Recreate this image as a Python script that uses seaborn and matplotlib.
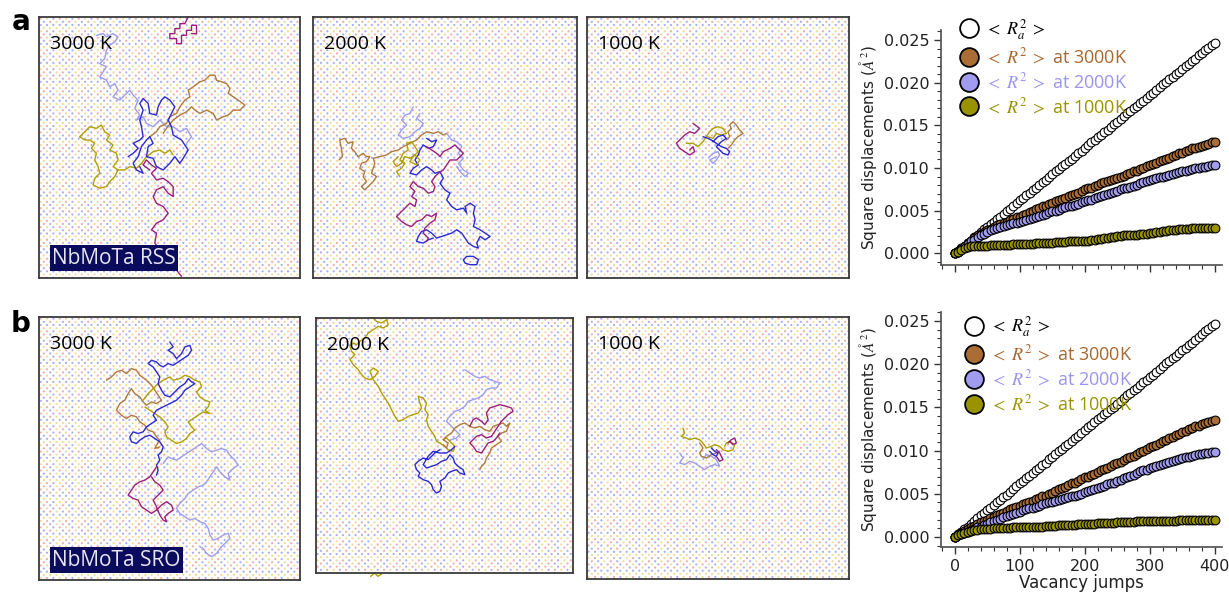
import numpy as np
import matplotlib
matplotlib.use("Agg")
import matplotlib.pyplot as plt
import seaborn as sns
from matplotlib.lines import Line2D
from matplotlib.ticker import MultipleLocator, FormatStrFormatter

# ---- colours ----
BLUE = '#2a2ad8'
LAV = '#9d9df2'
BROWN = '#b07a3e'
OLIVE = '#b0a000'
MAGENTA = '#9a1f7c'
LATTICE_COLORS = np.array(['#f4a8a8', '#aaaaf4', '#f0da92'])

# ---- MSD curves (square displacement vs vacancy jumps, every 5 jumps) ----
RA2 = [0.0000, 0.0003, 0.0006, 0.0009, 0.0012, 0.0015, 0.0019, 0.0022, 0.0025, 0.0028,
       0.0031, 0.0034, 0.0037, 0.0040, 0.0043, 0.0046, 0.0049, 0.0052, 0.0056, 0.0059,
       0.0062, 0.0065, 0.0068, 0.0071, 0.0074, 0.0077, 0.0080, 0.0083, 0.0086, 0.0090,
       0.0093, 0.0096, 0.0099, 0.0102, 0.0105, 0.0108, 0.0111, 0.0114, 0.0117, 0.0120,
       0.0124, 0.0127, 0.0130, 0.0133, 0.0136, 0.0139, 0.0142, 0.0145, 0.0148, 0.0151,
       0.0154, 0.0157, 0.0161, 0.0164, 0.0167, 0.0170, 0.0173, 0.0176, 0.0179, 0.0182,
       0.0185, 0.0188, 0.0191, 0.0195, 0.0198, 0.0201, 0.0204, 0.0207, 0.0210, 0.0213,
       0.0216, 0.0219, 0.0222, 0.0225, 0.0228, 0.0232, 0.0235, 0.0238, 0.0241, 0.0244, 0.0247]

RSS_3000 = [0.0000, 0.0002, 0.0005, 0.0009, 0.0012, 0.0015, 0.0018, 0.0021, 0.0023, 0.0025,
            0.0027, 0.0029, 0.0031, 0.0033, 0.0034, 0.0036, 0.0037, 0.0039, 0.0040, 0.0042,
            0.0043, 0.0045, 0.0046, 0.0048, 0.0050, 0.0052, 0.0053, 0.0055, 0.0056, 0.0058,
            0.0059, 0.0061, 0.0062, 0.0064, 0.0065, 0.0067, 0.0068, 0.0070, 0.0071, 0.0073,
            0.0075, 0.0076, 0.0077, 0.0079, 0.0080, 0.0082, 0.0083, 0.0085, 0.0086, 0.0087,
            0.0088, 0.0090, 0.0091, 0.0093, 0.0094, 0.0096, 0.0097, 0.0099, 0.0100, 0.0102,
            0.0103, 0.0105, 0.0106, 0.0108, 0.0109, 0.0111, 0.0112, 0.0114, 0.0115, 0.0117,
            0.0118, 0.0120, 0.0121, 0.0123, 0.0124, 0.0125, 0.0126, 0.0127, 0.0128, 0.0130, 0.0131]
RSS_2000 = [0.0000, 0.0002, 0.0005, 0.0008, 0.0011, 0.0014, 0.0016, 0.0019, 0.0021, 0.0023,
            0.0025, 0.0027, 0.0028, 0.0030, 0.0031, 0.0032, 0.0033, 0.0034, 0.0035, 0.0036,
            0.0037, 0.0038, 0.0039, 0.0040, 0.0041, 0.0043, 0.0044, 0.0045, 0.0046, 0.0048,
            0.0049, 0.0050, 0.0051, 0.0053, 0.0054, 0.0055, 0.0056, 0.0057, 0.0058, 0.0060,
            0.0061, 0.0062, 0.0063, 0.0065, 0.0066, 0.0067, 0.0068, 0.0070, 0.0071, 0.0072,
            0.0073, 0.0075, 0.0076, 0.0077, 0.0078, 0.0079, 0.0080, 0.0082, 0.0083, 0.0085,
            0.0086, 0.0087, 0.0088, 0.0089, 0.0090, 0.0091, 0.0092, 0.0093, 0.0094, 0.0095,
            0.0096, 0.0097, 0.0098, 0.0099, 0.0100, 0.0100, 0.0101, 0.0101, 0.0102, 0.0103, 0.0104]
RSS_1000 = [0.0000, 0.0002, 0.0004, 0.0006, 0.0007, 0.0008, 0.0008, 0.0009, 0.0009, 0.0009,
            0.0009, 0.0010, 0.0010, 0.0010, 0.0010, 0.0010, 0.0010, 0.0010, 0.0011, 0.0011,
            0.0011, 0.0011, 0.0011, 0.0011, 0.0011, 0.0012, 0.0012, 0.0012, 0.0012, 0.0012,
            0.0012, 0.0013, 0.0013, 0.0013, 0.0013, 0.0014, 0.0014, 0.0014, 0.0014, 0.0015,
            0.0015, 0.0015, 0.0016, 0.0016, 0.0017, 0.0017, 0.0018, 0.0018, 0.0019, 0.0019,
            0.0020, 0.0020, 0.0021, 0.0021, 0.0022, 0.0022, 0.0022, 0.0023, 0.0023, 0.0023,
            0.0024, 0.0024, 0.0025, 0.0025, 0.0026, 0.0026, 0.0027, 0.0027, 0.0027, 0.0028,
            0.0028, 0.0029, 0.0029, 0.0030, 0.0030, 0.0030, 0.0030, 0.0030, 0.0030, 0.0030, 0.0030]

SRO_3000 = [0.0000, 0.0002, 0.0005, 0.0007, 0.0009, 0.0011, 0.0013, 0.0015, 0.0017, 0.0019,
            0.0020, 0.0022, 0.0023, 0.0025, 0.0027, 0.0028, 0.0030, 0.0032, 0.0033, 0.0035,
            0.0036, 0.0038, 0.0039, 0.0041, 0.0042, 0.0044, 0.0045, 0.0047, 0.0048, 0.0050,
            0.0051, 0.0053, 0.0055, 0.0057, 0.0058, 0.0060, 0.0062, 0.0063, 0.0065, 0.0067,
            0.0069, 0.0070, 0.0072, 0.0073, 0.0075, 0.0077, 0.0079, 0.0080, 0.0082, 0.0084,
            0.0086, 0.0087, 0.0089, 0.0091, 0.0093, 0.0094, 0.0096, 0.0098, 0.0100, 0.0102,
            0.0104, 0.0105, 0.0107, 0.0109, 0.0111, 0.0112, 0.0114, 0.0116, 0.0118, 0.0119,
            0.0121, 0.0123, 0.0125, 0.0126, 0.0128, 0.0129, 0.0131, 0.0132, 0.0133, 0.0134, 0.0135]
SRO_2000 = [0.0000, 0.0002, 0.0003, 0.0005, 0.0006, 0.0008, 0.0009, 0.0011, 0.0012, 0.0014,
            0.0015, 0.0017, 0.0018, 0.0020, 0.0021, 0.0023, 0.0024, 0.0026, 0.0027, 0.0028,
            0.0029, 0.0031, 0.0032, 0.0033, 0.0034, 0.0035, 0.0036, 0.0038, 0.0039, 0.0040,
            0.0041, 0.0042, 0.0043, 0.0044, 0.0045, 0.0046, 0.0047, 0.0048, 0.0049, 0.0050,
            0.0052, 0.0053, 0.0054, 0.0055, 0.0057, 0.0058, 0.0059, 0.0061, 0.0062, 0.0063,
            0.0065, 0.0066, 0.0068, 0.0070, 0.0071, 0.0072, 0.0074, 0.0076, 0.0077, 0.0078,
            0.0080, 0.0081, 0.0082, 0.0083, 0.0085, 0.0086, 0.0087, 0.0088, 0.0089, 0.0090,
            0.0091, 0.0092, 0.0093, 0.0094, 0.0095, 0.0096, 0.0096, 0.0097, 0.0097, 0.0098, 0.0098]
SRO_1000 = [0.0000, 0.0002, 0.0004, 0.0005, 0.0006, 0.0007, 0.0008, 0.0008, 0.0009, 0.0009,
            0.0009, 0.0009, 0.0010, 0.0010, 0.0010, 0.0010, 0.0010, 0.0010, 0.0011, 0.0011,
            0.0011, 0.0011, 0.0012, 0.0012, 0.0012, 0.0012, 0.0012, 0.0012, 0.0013, 0.0013,
            0.0013, 0.0013, 0.0014, 0.0014, 0.0014, 0.0014, 0.0014, 0.0014, 0.0015, 0.0015,
            0.0015, 0.0015, 0.0015, 0.0015, 0.0016, 0.0016, 0.0016, 0.0016, 0.0016, 0.0016,
            0.0017, 0.0017, 0.0017, 0.0017, 0.0017, 0.0017, 0.0018, 0.0018, 0.0018, 0.0018,
            0.0018, 0.0018, 0.0019, 0.0019, 0.0019, 0.0019, 0.0019, 0.0019, 0.0019, 0.0020,
            0.0020, 0.0020, 0.0020, 0.0020, 0.0020, 0.0020, 0.0020, 0.0020, 0.0020, 0.0020, 0.0020]

JUMP_STEP = 5

MSD_LABELS = [r'$<\;R_a^2\;>$', r'$<\;R^2\;>$ at 3000K', r'$<\;R^2\;>$ at 2000K',
              r'$<\;R^2\;>$ at 1000K']
MSD_FACES = ['white', '#a96d35', '#a29cf0', '#9a9300']
MSD_TEXT = ['black', '#a8672f', '#9a94f0', '#9a9300']

# ---- vacancy trajectories, in panel pixel units (x right, y down) ----
# frame = (x_left, x_right, y_top, y_bottom)
FRAME_A1 = (118, 900, 50, 835)
FRAME_A2 = (40, 830, 50, 835)
FRAME_A3 = (22, 808, 50, 835)
FRAME_B1 = (118, 900, 50, 840)
FRAME_B2 = (48, 820, 55, 820)
FRAME_B3 = (22, 808, 50, 840)

A1_MAGENTA_TOP = [(565, 50), (555, 70), (540, 70), (540, 85), (525, 85), (525, 100), (510, 100),
                  (510, 115), (530, 115), (530, 130), (545, 130), (545, 105), (560, 105), (560, 90),
                  (575, 90), (575, 75), (590, 75), (590, 100), (575, 100)]
A1_MAGENTA = [(545, 830), (465, 730), (470, 700), (455, 690), (470, 670), (490, 660), (505, 640),
              (490, 620), (470, 610), (460, 590), (470, 570), (490, 560), (505, 580), (520, 590),
              (520, 560), (505, 545), (490, 535), (470, 540), (455, 520), (470, 505), (455, 495),
              (440, 480), (430, 495), (450, 510)]
A1_LAV = [(290, 105), (310, 100), (320, 110), (340, 100), (355, 110), (345, 125), (330, 135),
          (320, 150), (315, 175), (300, 190), (320, 200), (310, 215), (300, 230), (320, 240),
          (330, 260), (345, 250), (355, 270), (340, 290), (360, 300), (375, 285), (390, 270),
          (400, 285), (415, 300), (405, 325), (420, 345), (410, 360), (430, 350), (440, 370),
          (460, 380), (480, 360), (500, 380), (520, 380), (540, 395), (560, 385), (575, 410),
          (560, 430)]
A1_BLUE = [(385, 470), (400, 460), (415, 445), (400, 430), (420, 420), (430, 410), (425, 380),
           (420, 360), (430, 330), (420, 310), (430, 295), (445, 310), (450, 340), (470, 345),
           (475, 320), (485, 300), (495, 290), (510, 300), (525, 320), (515, 340), (505, 360),
           (515, 380), (520, 405), (545, 420), (565, 450), (550, 475), (540, 490), (525, 470),
           (510, 490), (490, 510), (470, 500), (460, 475), (440, 470), (445, 440), (460, 430),
           (450, 410), (440, 420), (425, 440), (415, 470), (400, 490), (410, 510), (430, 520),
           (420, 500)]
A1_BROWN = [(450, 410), (470, 395), (480, 380), (500, 370), (510, 350), (530, 340), (540, 320),
            (555, 300), (570, 290), (565, 270), (580, 260), (600, 245), (615, 240), (630, 225),
            (645, 225), (650, 240), (665, 245), (680, 250), (690, 265), (685, 280), (700, 290),
            (715, 300), (735, 315), (720, 330), (700, 330), (685, 345), (670, 350), (650, 360),
            (640, 340), (620, 330), (600, 340), (585, 330), (575, 320), (560, 335), (540, 345),
            (520, 360), (500, 385), (490, 400)]
A1_OLIVE = [(240, 410), (255, 395), (270, 380), (290, 385), (305, 375), (315, 395), (330, 405),
            (320, 420), (340, 435), (330, 450), (350, 460), (355, 480), (340, 500), (355, 510),
            (345, 530), (330, 545), (320, 560), (300, 565), (280, 555), (285, 535), (300, 520),
            (295, 500), (285, 480), (290, 460), (275, 445), (285, 430), (270, 420), (255, 420),
            (240, 410)]
A1_OLIVE_B = [(355, 510), (375, 510), (390, 500), (410, 505), (425, 490), (440, 470), (460, 455),
              (480, 450), (495, 460), (510, 450), (520, 465)]

A2_BROWN = [(118, 480), (128, 470), (125, 445), (120, 420), (135, 415), (145, 430), (160, 425),
            (155, 445), (165, 455), (175, 470), (190, 460), (200, 470), (210, 470), (200, 485),
            (185, 490), (180, 505), (195, 515), (190, 530), (200, 545), (185, 560), (195, 570),
            (210, 555), (220, 545), (230, 530), (215, 520), (220, 505), (225, 490), (220, 475),
            (240, 470), (260, 465), (275, 455), (295, 450), (310, 440), (330, 430), (350, 420),
            (365, 405), (380, 395), (400, 400), (415, 395), (430, 405), (440, 400)]
A2_OLIVE = [(300, 530), (290, 515), (305, 505), (315, 490), (300, 480), (310, 460), (325, 450),
            (320, 430), (335, 425), (345, 440), (355, 455), (340, 470), (330, 485), (350, 495),
            (360, 480), (345, 465), (330, 475), (315, 470), (305, 490), (290, 500), (280, 485),
            (295, 470)]
A2_LAV = [(340, 320), (330, 340), (315, 345), (305, 360), (320, 375), (305, 390), (295, 405),
          (310, 415), (330, 410), (345, 395), (360, 385), (370, 370), (350, 355), (360, 340)]
A2_LAV_B = [(440, 400), (455, 420), (470, 425), (485, 440), (475, 460), (490, 475), (475, 490),
            (490, 510), (505, 520), (495, 530), (480, 515), (470, 500)]
A2_BLUE = [(380, 415), (395, 425), (410, 420), (400, 440), (385, 445), (370, 435), (360, 450),
           (355, 465), (345, 480), (355, 495), (340, 505), (330, 520), (350, 525), (365, 510),
           (380, 500), (395, 510), (405, 520), (420, 515), (430, 535), (420, 550), (435, 570),
           (450, 580), (440, 600), (455, 620), (470, 630), (490, 625), (500, 640), (495, 620),
           (510, 610), (525, 620), (520, 640), (525, 660), (520, 680), (540, 690), (555, 700),
           (570, 710), (555, 720), (540, 710), (530, 730), (535, 745), (520, 740), (505, 730),
           (495, 715), (485, 700), (470, 690), (455, 700), (440, 705), (425, 710), (410, 715),
           (395, 700), (380, 690), (365, 695), (355, 710), (350, 725), (370, 730), (385, 720),
           (400, 715)]
A2_BLUE_LOOP = [(490, 780), (500, 770), (520, 770), (535, 780), (530, 795), (510, 795),
                (495, 790), (490, 780)]
A2_MAGENTA = [(380, 440), (395, 450), (410, 460), (420, 470), (430, 455), (450, 445), (465, 435),
              (475, 445), (490, 460), (480, 470), (470, 480), (450, 480), (440, 495), (430, 510),
              (415, 520), (405, 530), (395, 545), (405, 560), (400, 575), (385, 580), (370, 565),
              (355, 560), (340, 545), (330, 560), (345, 575), (335, 590), (350, 600), (345, 620),
              (330, 610), (315, 625), (300, 640), (290, 650), (305, 665), (320, 675), (335, 680),
              (350, 665), (365, 660), (380, 645), (395, 650), (410, 640), (405, 660), (390, 670),
              (375, 685), (370, 700), (385, 715), (380, 725)]

A3_MAGENTA = [(340, 370), (360, 385), (345, 400), (330, 395), (315, 405), (300, 420), (290, 430),
              (300, 445), (315, 455), (330, 465), (345, 455), (340, 440), (330, 450)]
A3_OLIVE = [(320, 430), (340, 430), (355, 440), (370, 425), (380, 410), (390, 395), (400, 385),
            (415, 380), (430, 385), (440, 400), (425, 405), (410, 400), (400, 415), (385, 410)]
A3_BLUE = [(370, 410), (385, 415), (395, 420), (410, 430), (425, 440), (440, 445), (450, 455),
           (445, 465), (430, 460), (420, 450), (410, 440), (425, 425), (440, 415), (430, 405),
           (415, 410), (400, 425)]
A3_BROWN = [(440, 420), (450, 410), (445, 395), (455, 385), (450, 375), (460, 365), (470, 375),
            (480, 390), (490, 400), (475, 410), (465, 420), (455, 435), (445, 445)]
A3_LAV = [(390, 470), (400, 460), (415, 455), (420, 465), (410, 480), (400, 490), (390, 480),
          (410, 470)]

B1_BLUE = [(510, 125), (520, 140), (505, 150), (520, 160), (530, 175), (545, 160), (555, 140),
           (570, 135), (575, 150), (565, 165), (550, 175), (535, 185), (520, 195), (505, 190),
           (490, 200), (480, 195), (470, 185), (455, 180), (445, 190), (460, 200), (470, 215),
           (480, 230), (475, 250), (485, 270), (495, 285), (510, 290), (525, 275), (540, 260),
           (555, 250), (565, 235), (575, 245), (585, 250), (570, 260), (555, 270), (545, 285),
           (530, 300), (510, 310), (490, 320), (470, 330), (460, 345), (470, 360), (455, 370),
           (440, 380), (430, 395), (415, 400), (400, 395), (390, 410), (395, 425), (410, 430),
           (420, 420), (435, 410), (450, 405), (465, 415), (480, 425), (490, 440), (485, 455),
           (475, 465), (480, 480), (470, 495), (475, 510), (470, 525)]
B1_BROWN = [(320, 240), (335, 230), (350, 215), (365, 210), (380, 220), (395, 205), (410, 210),
            (420, 225), (440, 240), (455, 255), (465, 270), (475, 285), (485, 300), (470, 310),
            (455, 305), (440, 315), (430, 305), (420, 290), (405, 280), (395, 265), (385, 280),
            (375, 300), (360, 310), (350, 330), (365, 345), (380, 355), (395, 345), (410, 350),
            (420, 365), (435, 375), (445, 390), (460, 395), (470, 410), (480, 420), (470, 435),
            (465, 445), (480, 440)]
B1_OLIVE = [(430, 300), (445, 280), (460, 265), (475, 250), (490, 240), (510, 230), (520, 240),
            (540, 235), (555, 225), (570, 230), (585, 240), (600, 245), (605, 260), (590, 275),
            (600, 290), (615, 300), (630, 305), (625, 320), (615, 330), (630, 340), (610, 335),
            (595, 345), (580, 355), (565, 365), (575, 380), (585, 390), (570, 400), (560, 415),
            (545, 425), (530, 430), (515, 420), (500, 410), (495, 395), (505, 380), (495, 365),
            (480, 350), (465, 340), (450, 330), (435, 320)]
B1_LAV = [(490, 490), (505, 470), (515, 475), (530, 480), (545, 470), (560, 460), (575, 450),
          (590, 440), (605, 430), (620, 445), (635, 455), (650, 450), (665, 445), (680, 450),
          (690, 465), (705, 480), (715, 495), (700, 505), (685, 520), (690, 540), (675, 530),
          (660, 515), (650, 500), (640, 515), (630, 530), (620, 545), (610, 555), (595, 560),
          (580, 570), (565, 580), (555, 595), (540, 610), (530, 625), (540, 640), (555, 650),
          (570, 660), (585, 655), (600, 665), (615, 670), (625, 685), (630, 705), (640, 720),
          (655, 715), (670, 705), (685, 700), (690, 715), (675, 730), (660, 745), (650, 760),
          (635, 770), (620, 760), (610, 745), (600, 740)]
B1_MAGENTA = [(470, 500), (460, 515), (450, 530), (435, 540), (420, 545), (405, 555), (395, 570),
              (385, 585), (400, 595), (415, 600), (425, 620), (440, 630), (455, 640), (470, 630),
              (485, 615), (500, 605), (515, 615), (520, 630), (505, 640), (495, 650), (500, 665),
              (490, 660), (480, 645), (470, 620), (460, 600), (475, 585), (490, 570), (480, 555),
              (465, 545), (455, 530)]

B2_OLIVE = [(220, 55), (230, 65), (245, 70), (260, 60), (265, 75), (250, 85), (235, 80), (220, 90),
            (205, 100), (195, 115), (180, 125), (170, 135), (160, 130), (150, 140), (155, 155),
            (165, 165), (150, 180), (160, 195), (175, 210), (185, 225), (195, 235), (210, 240),
            (225, 230), (235, 215), (220, 205), (210, 215), (220, 240), (235, 260), (245, 280),
            (255, 295), (265, 310), (275, 330), (285, 350), (295, 365), (310, 360), (325, 350),
            (340, 345), (355, 340), (365, 325), (360, 310), (355, 290), (370, 295), (380, 310),
            (375, 330), (385, 345), (380, 360), (385, 380), (395, 395), (405, 410), (410, 425),
            (420, 430), (435, 440), (445, 450), (460, 455), (465, 440), (450, 425), (440, 415),
            (430, 420)]
B2_OLIVE_STUB = [(212, 830), (224, 820), (234, 830), (246, 822)]
B2_BLUE = [(420, 450), (405, 460), (395, 470), (385, 480), (370, 475), (355, 485), (345, 495),
           (350, 510), (360, 520), (355, 530), (370, 540), (385, 545), (395, 555), (400, 570),
           (410, 580), (420, 575), (425, 560), (420, 545), (435, 535), (445, 520), (455, 515),
           (470, 510), (480, 520), (495, 525), (490, 510), (475, 500), (465, 490), (460, 475),
           (450, 465), (440, 480), (425, 485), (410, 495), (395, 500), (380, 505), (370, 495),
           (385, 470), (400, 455), (420, 460), (440, 460), (455, 450), (465, 440)]
B2_BROWN = [(430, 435), (440, 445), (445, 430), (430, 420), (440, 410), (455, 400), (465, 385),
            (480, 375), (495, 370), (510, 380), (525, 385), (540, 380), (555, 390), (570, 395),
            (580, 380), (595, 375), (610, 370), (620, 380), (630, 370), (620, 395), (605, 400),
            (595, 410), (605, 425), (590, 435), (575, 445), (570, 460), (560, 475), (555, 490),
            (545, 500), (540, 510)]
B2_MAGENTA = [(510, 380), (520, 360), (530, 355), (545, 365), (555, 375), (565, 360), (560, 340),
              (570, 325), (585, 320), (600, 315), (620, 320), (635, 325), (640, 335), (625, 345),
              (615, 355), (605, 365), (595, 380), (585, 395), (575, 410), (560, 415), (545, 405),
              (530, 410), (520, 420), (510, 430), (520, 440), (530, 455), (545, 460), (555, 445),
              (565, 430), (580, 425), (590, 415), (600, 400)]
B2_LAV = [(495, 210), (510, 220), (525, 230), (540, 235), (555, 230), (570, 240), (585, 245),
          (600, 250), (590, 265), (575, 265), (560, 270), (550, 285), (535, 295), (520, 300),
          (505, 305), (495, 320), (480, 330), (465, 335), (455, 345), (445, 355), (440, 365),
          (450, 375), (460, 385), (470, 395), (480, 405), (470, 415), (455, 420)]

B3_OLIVE = [(310, 385), (315, 400), (305, 410), (320, 415), (330, 420), (345, 415), (360, 420),
            (370, 430), (380, 445), (395, 440), (405, 435), (420, 440), (430, 450), (445, 455),
            (460, 450), (465, 435), (450, 425), (440, 430), (435, 440)]
B3_BROWN = [(360, 430), (370, 445), (360, 460), (365, 470), (380, 475), (395, 465), (410, 460),
            (420, 455)]
B3_LAV = [(300, 460), (310, 475), (300, 490), (315, 495), (330, 485), (345, 490), (360, 500),
          (375, 510), (390, 500), (405, 495), (420, 500), (410, 480), (395, 470), (380, 465),
          (370, 480)]
B3_BLUE = [(395, 445), (405, 455), (415, 460), (410, 470), (400, 465), (390, 455)]
B3_MAGENTA = [(445, 430), (455, 420), (465, 415), (470, 430), (460, 435), (450, 425)]
B3_MAGENTA_B = [(410, 450), (420, 460), (430, 480), (420, 485), (410, 470)]

sns.set_theme(style='ticks')
plt.rcParams['font.family'] = ['DejaVu Sans']
plt.rcParams['mathtext.fontset'] = 'stix'
plt.rcParams['text.color'] = 'black'

fig = plt.figure(figsize=(12.29, 5.94), dpi=100)


def draw_panel(rect, frame, walks, temp, tag=None):
    ax = fig.add_axes(rect)
    x0, x1, y0, y1 = frame
    # faint atom lattice in the background (two interpenetrating square grids)
    for k, off in enumerate((0, 9.5)):
        gx = np.arange(x0 + 5 + off, x1, 19)
        gy = np.arange(y0 + 5 + off, y1, 19)
        X, Y = np.meshgrid(gx, gy)
        i = np.arange(len(gy))[:, None]
        j = np.arange(len(gx))[None, :]
        idx = (i * 7 + j * 5 + i * j + k) % 3
        ax.scatter(X.ravel(), Y.ravel(), s=2.4, c=LATTICE_COLORS[idx.ravel()],
                   linewidths=0, zorder=1)
    for pts, color in walks:
        xs, ys = zip(*pts)
        ax.plot(xs, ys, color=color, lw=1.0, clip_on=False, zorder=3)
    ax.set_xlim(x0, x1)
    ax.set_ylim(y1, y0)
    ax.set_xticks([])
    ax.set_yticks([])
    for sp in ax.spines.values():
        sp.set_color('#3a3a3a')
        sp.set_linewidth(1.3)
        sp.set_zorder(5)
    ax.text(0.042, 0.93, temp, transform=ax.transAxes, fontsize=14,
            family='Open Sans', color='black', va='top', zorder=6)
    if tag:
        ax.text(0.05, 0.035, tag, transform=ax.transAxes, fontsize=15,
                family='Open Sans', color='#e6e6f2', va='bottom', zorder=6,
                bbox=dict(boxstyle='square,pad=0.12', fc='#0b0b5e', ec='none'))
    return ax


def draw_msd(rect, ylim, xlim, curves, show_xlabels, legend_anchor):
    ax = fig.add_axes(rect)
    for vals, face in zip(curves, MSD_FACES):
        jumps = [i * JUMP_STEP for i in range(len(vals))]
        sns.scatterplot(x=jumps, y=vals, ax=ax, s=40, color=face,
                        edgecolor='black', linewidth=0.8, clip_on=False)
    ax.set_xlim(*xlim)
    ax.set_ylim(*ylim)
    sns.despine(ax=ax)
    ax.yaxis.set_major_locator(MultipleLocator(0.005))
    ax.yaxis.set_minor_locator(MultipleLocator(0.001))
    ax.yaxis.set_major_formatter(FormatStrFormatter('%.3f'))
    ax.xaxis.set_major_locator(MultipleLocator(100))
    ax.xaxis.set_minor_locator(MultipleLocator(20))
    ax.tick_params(which='major', length=5, width=1, labelsize=11.5, colors='#333333',
                   labelcolor='#222222')
    ax.tick_params(which='minor', length=3, width=0.8, colors='#333333')
    for sp in ax.spines.values():
        sp.set_color('#555555')
    ax.set_ylabel(r'Square displacements ($\AA^2$)', fontsize=11, labelpad=3, color='#222222')
    if show_xlabels:
        ax.set_xlabel('Vacancy jumps', fontsize=12, labelpad=0, color='#222222')
    else:
        ax.tick_params(axis='x', labelbottom=False)
    handles = [Line2D([], [], marker='o', ls='', markersize=13.5, markerfacecolor=f,
                      markeredgecolor='black', markeredgewidth=1.3) for f in MSD_FACES]
    leg = ax.legend(handles, MSD_LABELS, loc='upper left', bbox_to_anchor=legend_anchor,
                    frameon=False, prop={'family': 'Open Sans', 'size': 13},
                    handletextpad=0.3, labelspacing=0.28, borderaxespad=0,
                    handlelength=1.2)
    for t, c in zip(leg.get_texts(), MSD_TEXT):
        t.set_color(c)
    return ax


W, H = 1229, 594


def frac(x0, y0, x1, y1):
    return [x0 / W, 1 - y1 / H, (x1 - x0) / W, (y1 - y0) / H]


draw_panel(frac(39, 17, 300, 278), FRAME_A1,
           [(A1_LAV, LAV), (A1_OLIVE, OLIVE), (A1_OLIVE_B, OLIVE), (A1_BROWN, BROWN),
            (A1_BLUE, BLUE), (A1_MAGENTA_TOP, MAGENTA), (A1_MAGENTA, MAGENTA)],
           '3000 K', 'NbMoTa RSS')
draw_panel(frac(313, 17, 577, 278), FRAME_A2,
           [(A2_BROWN, BROWN), (A2_LAV, LAV), (A2_LAV_B, LAV), (A2_BLUE, BLUE),
            (A2_BLUE_LOOP, BLUE), (A2_MAGENTA, MAGENTA), (A2_OLIVE, OLIVE)],
           '2000 K')
draw_panel(frac(587, 17, 849, 278), FRAME_A3,
           [(A3_LAV, LAV), (A3_BROWN, BROWN), (A3_OLIVE, OLIVE), (A3_MAGENTA, MAGENTA),
            (A3_BLUE, BLUE)],
           '1000 K')
draw_panel(frac(39, 317, 300, 580), FRAME_B1,
           [(B1_LAV, LAV), (B1_BROWN, BROWN), (B1_OLIVE, OLIVE), (B1_BLUE, BLUE),
            (B1_MAGENTA, MAGENTA)],
           '3000 K', 'NbMoTa SRO')
draw_panel(frac(316, 318, 573, 573), FRAME_B2,
           [(B2_LAV, LAV), (B2_OLIVE, OLIVE), (B2_OLIVE_STUB, OLIVE), (B2_BROWN, BROWN),
            (B2_MAGENTA, MAGENTA), (B2_BLUE, BLUE)],
           '2000 K')
draw_panel(frac(587, 317, 849, 579), FRAME_B3,
           [(B3_LAV, LAV), (B3_OLIVE, OLIVE), (B3_BROWN, BROWN), (B3_BLUE, BLUE),
            (B3_MAGENTA, MAGENTA), (B3_MAGENTA_B, MAGENTA)],
           '1000 K')

draw_msd(frac(941, 30, 1222, 265), (-0.00137, 0.02617), (-21.5, 411),
         [RA2, RSS_3000, RSS_2000, RSS_1000], False, (0.034, 1.085))
draw_msd(frac(941, 312, 1222, 547), (-0.00116, 0.02604), (-20.9, 411),
         [RA2, SRO_3000, SRO_2000, SRO_1000], True, (0.052, 1.02))

fig.text(12 / W, 1 - 30 / H, 'a', fontsize=20, fontweight='bold', va='baseline', color='black')
fig.text(11 / W, 1 - 332 / H, 'b', fontsize=20, fontweight='bold', va='baseline', color='black')

fig.savefig('out.png', dpi=100)
